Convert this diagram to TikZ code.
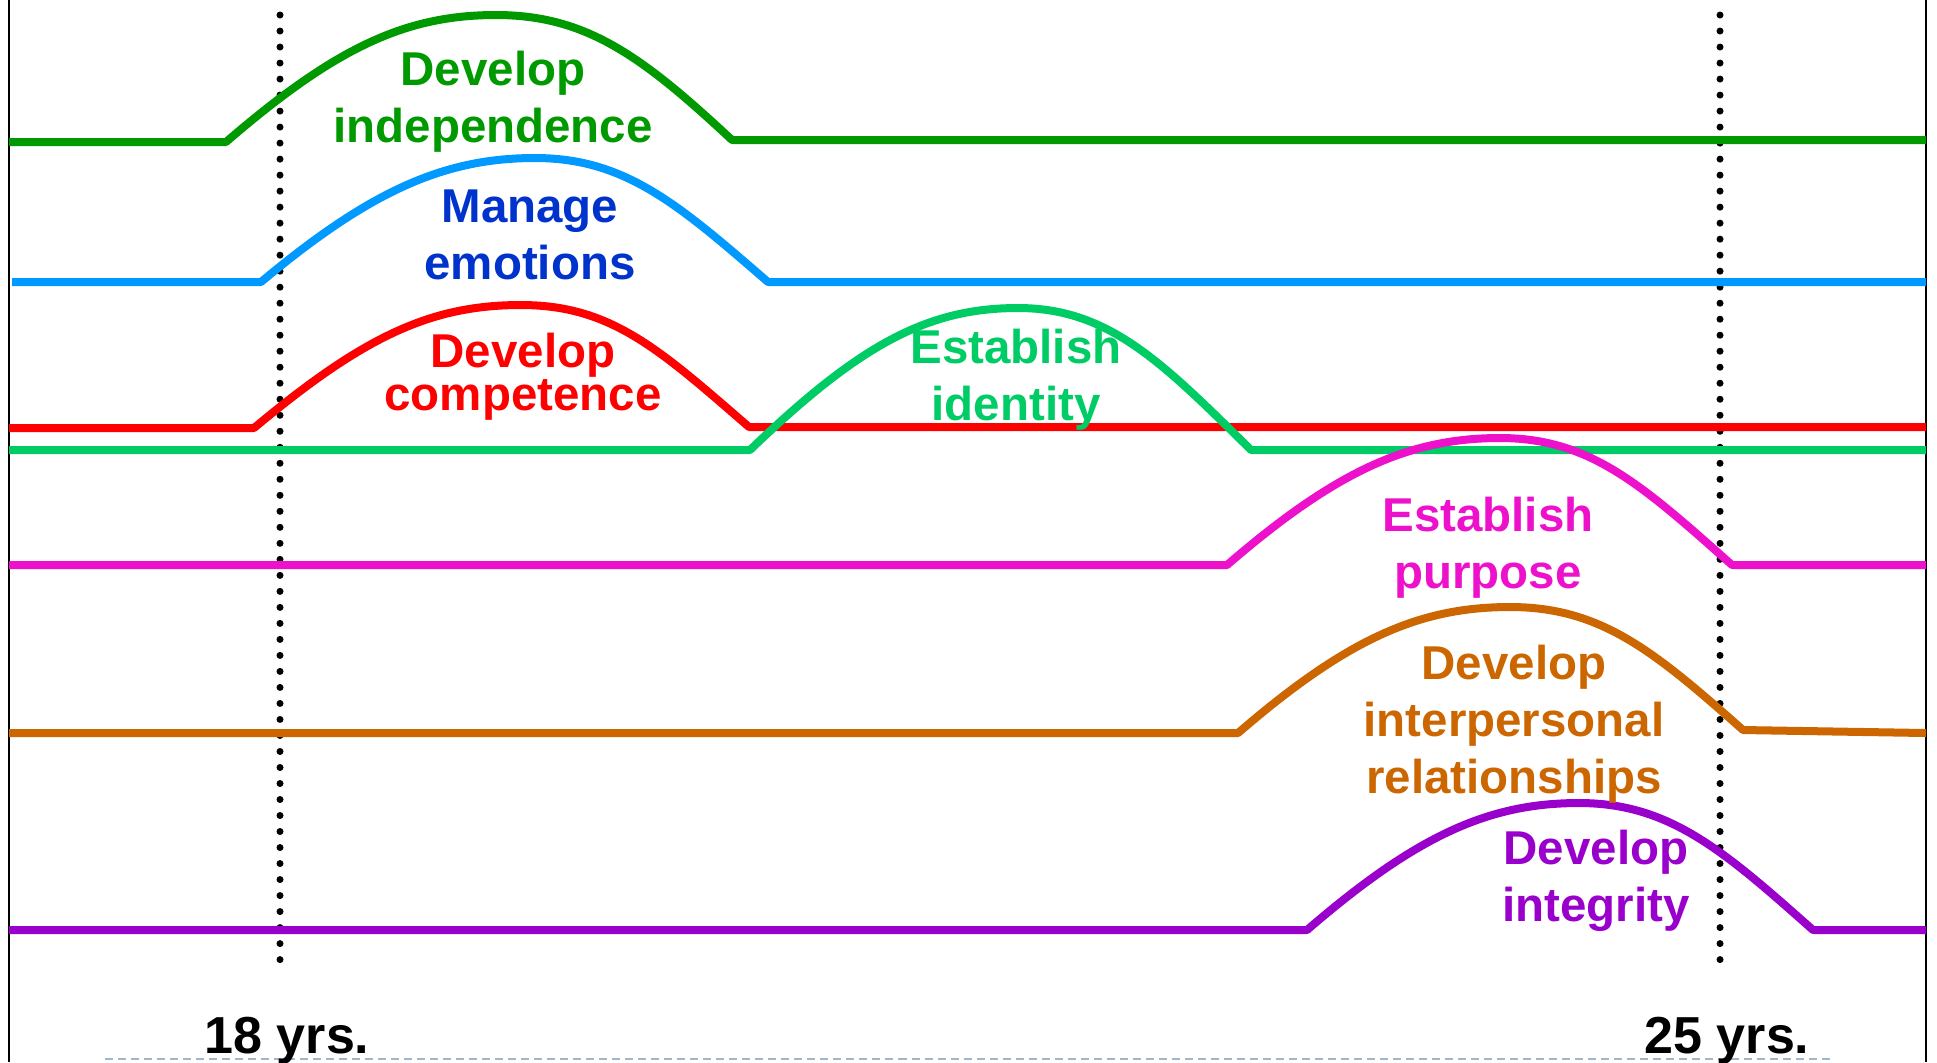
\documentclass[tikz,border=0pt]{standalone}
\usepackage{fontspec}
\setmainfont{Liberation Sans}
\usepackage{xcolor}
\definecolor{indepgreen}{HTML}{009900}
\definecolor{emotblue}{HTML}{0099FF}
\definecolor{emottext}{HTML}{0033CC}
\definecolor{competred}{HTML}{FF0000}
\definecolor{identgreen}{HTML}{00CC66}
\definecolor{purpmagenta}{HTML}{EE11CC}
\definecolor{relatorange}{HTML}{CC6600}
\definecolor{integpurple}{HTML}{9900CC}
\definecolor{rulegray}{HTML}{A3B5C8}

\begin{document}
\begin{tikzpicture}[x=0.01cm,y=-0.01cm,
        stage/.style={line width=0.08cm,line join=round},
        task/.style={font=\bfseries\fontsize{13.5}{16.2}\selectfont,align=center,inner sep=0pt,anchor=north},
        age/.style={font=\bfseries\fontsize{14.8}{17}\selectfont,inner sep=0pt,anchor=base},
        marker/.style={line width=0.07cm,line cap=round,dash pattern=on 0pt off 0.16cm}]
        \useasboundingbox (0,0) rectangle (1937,1062);
        % frame
        \draw[line width=0.025cm] (9,0) -- (9,1062);
        \draw[line width=0.025cm] (1926,0) -- (1926,1062);
        \draw[rulegray,line width=0.015cm,dash pattern=on 0.08cm off 0.05cm] (105,1059) -- (1832,1059);
        % age markers
        \draw[marker] (280,15) coordinate (top18) -- (280,963) coordinate (bot18);
        \draw[marker] (1720,15) coordinate (top25) -- (1720,960) coordinate (bot25);
        % vectors
        \draw[stage,indepgreen] (9,142) -- (226,142) .. controls (336,47) and (406,15) .. (496,15)
          .. controls (586,15) and (642,56) .. (732,140) -- (1926,140);
        \draw[stage,emotblue] (12,282) -- (261,282) .. controls (371,190) and (445,158) .. (535,158)
          .. controls (625,158) and (678,204) .. (768,282) -- (1926,282);
        \draw[stage,competred] (9,428) -- (254,428) .. controls (364,336) and (431,305) .. (521,305)
          .. controls (611,305) and (659,349) .. (749,427) -- (1926,427);
        \draw[stage,identgreen] (9,450) -- (750,450) .. controls (860,344) and (928,308) .. (1018,308)
          .. controls (1108,308) and (1161,361) .. (1251,450) -- (1926,450);
        \draw[stage,purpmagenta] (9,565) -- (1227,565) .. controls (1337,470) and (1410,438) .. (1500,438)
          .. controls (1590,438) and (1642,485) .. (1732,565) -- (1926,565);
        \draw[stage,relatorange] (9,733) -- (1238,733) .. controls (1348,638) and (1420,607) .. (1510,607)
          .. controls (1600,607) and (1653,650) .. (1743,730) -- (1926,733);
        \draw[stage,integpurple] (9,930) -- (1307,930) .. controls (1417,835) and (1489,803) .. (1579,803)
          .. controls (1669,803) and (1723,850) .. (1813,930) -- (1926,930);
        % labels
        \node[task,indepgreen] (indep) at (493,50) {Develop\\independence};
        \node[task,emottext] (emot) at (530,189) {Manage\\emotions};
        \node[task,competred,font=\bfseries\fontsize{13.5}{12.2}\selectfont] (compet) at (523,332) {Develop\\competence};
        \node[task,identgreen] (ident) at (1016,328) {Establish\\identity};
        \node[task,purpmagenta] (purp) at (1488,496) {Establish\\purpose};
        \node[task,relatorange] (relat) at (1514,644) {Develop\\interpersonal\\relationships};
        \node[task,integpurple] (integ) at (1596,829) {Develop\\integrity};
        \node[age] (age18) at (287,1053) {18 yrs.};
        \node[age] (age25) at (1727,1053) {25 yrs.};
\end{tikzpicture}
\end{document}
